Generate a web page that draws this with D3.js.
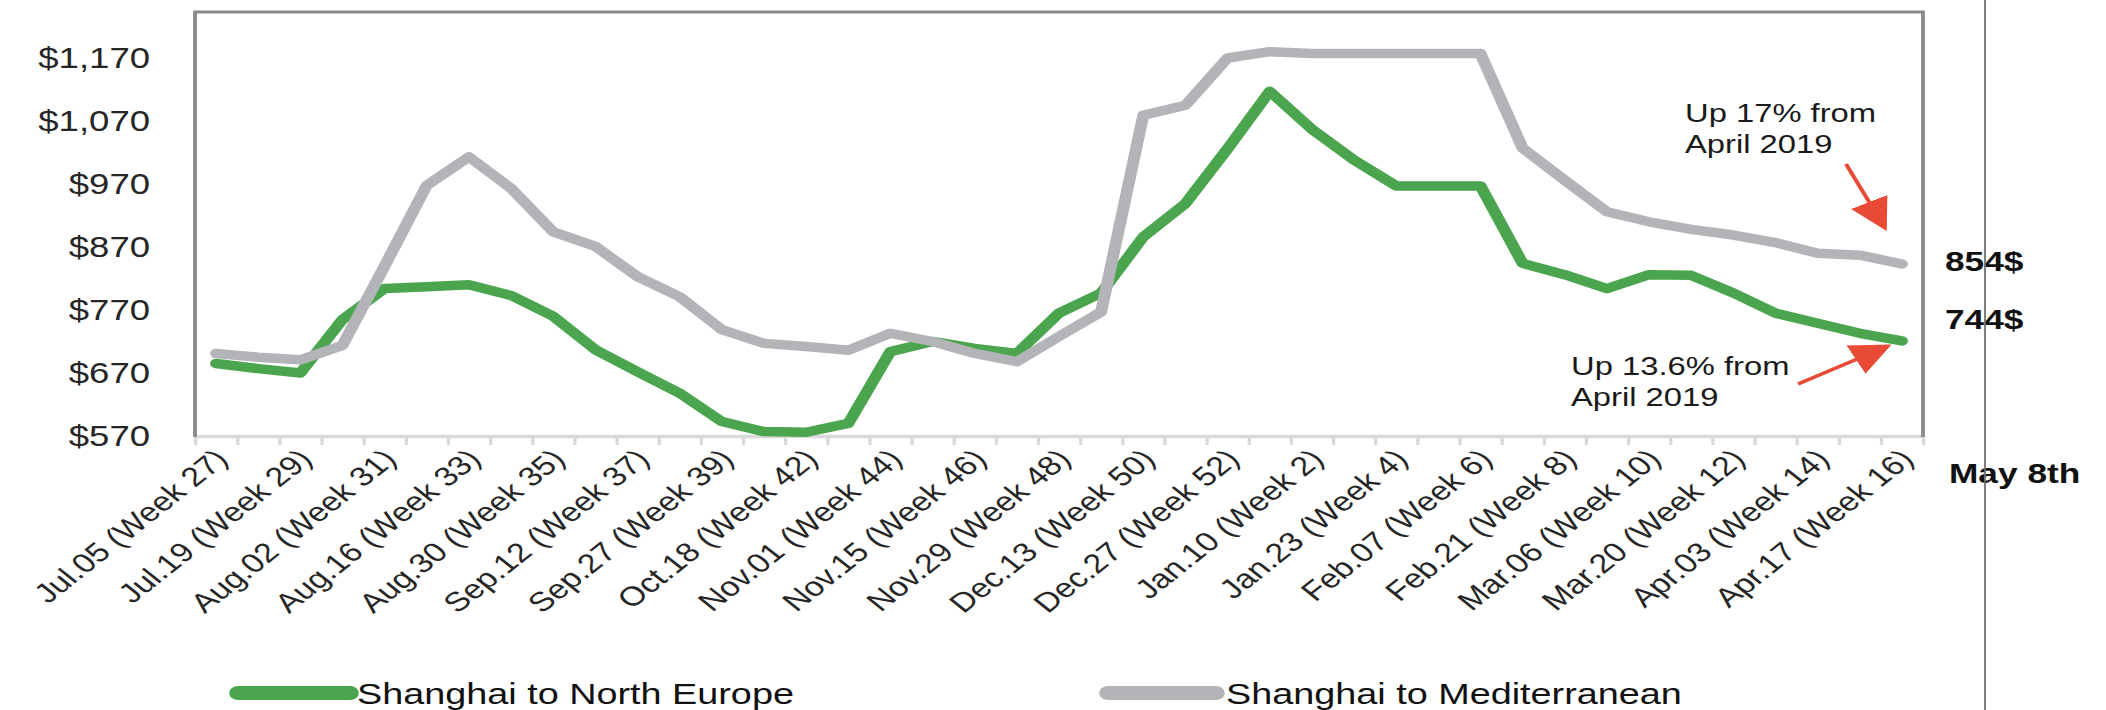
<!DOCTYPE html>
<html>
<head>
<meta charset="utf-8">
<script src="https://cdn.jsdelivr.net/npm/d3@7"></script>
<style>
  html, body { margin: 0; padding: 0; background: #fff; }
  svg { display: block; }
</style>
</head>
<body>
<svg id="chart"></svg>
<script>
// Weekly spot rates Shanghai -> Europe, Jul 2019 to Apr 2020 (one point per week)
const tickLabels = [
  "Jul.05 (Week 27)", "Jul.19 (Week 29)", "Aug.02 (Week 31)", "Aug.16 (Week 33)",
  "Aug.30 (Week 35)", "Sep.12 (Week 37)", "Sep.27 (Week 39)", "Oct.18 (Week 42)",
  "Nov.01 (Week 44)", "Nov.15 (Week 46)", "Nov.29 (Week 48)", "Dec.13 (Week 50)",
  "Dec.27 (Week 52)", "Jan.10 (Week 2)", "Jan.23 (Week 4)", "Feb.07 (Week 6)",
  "Feb.21 (Week 8)", "Mar.06 (Week 10)", "Mar.20 (Week 12)", "Apr.03 (Week 14)",
  "Apr.17 (Week 16)"
];

const northEurope = [
  685, 677, 670, 755, 804, 807, 810, 793, 760, 707,
  672, 638, 593, 577, 576, 590, 704, 720, 709, 701,
  765, 797, 886, 939, 1026, 1117, 1057, 1008, 967, 967,
  967, 844, 826, 804, 826, 825, 797, 765, 749, 733,
  721
];

const mediterranean = [
  701, 695, 691, 714, 840, 968, 1013, 963, 894, 871,
  823, 791, 739, 717, 712, 706, 733, 720, 701, 688,
  728, 767, 1079, 1095, 1170, 1180, 1177, 1177, 1177, 1177,
  1177, 1027, 976, 926, 910, 898, 889, 877, 860, 857,
  843
];

const yTicks = [570, 670, 770, 870, 970, 1070, 1170];
const yDomain = [570, 1243];
const seriesNames = ["Shanghai to North Europe", "Shanghai to Mediterranean"];
const endLabels = ["854$", "744$"];
const noteTop = ["Up 17% from", "April 2019"];
const noteBottom = ["Up 13.6% from", "April 2019"];
const dateNote = "May 8th";

const W = 2106, H = 710;
const SX = 1.26;              // the source picture is stretched sideways
const VW = W / SX;
const px = v => v / SX;       // screen x -> drawing x

const GREEN = "#4aa54e";
const GREY = "#b3b4b8";
const RED = "#e84a35";
const FONT = "'Liberation Sans', Arial, sans-serif";

const svg = d3.select("#chart")
  .attr("width", W)
  .attr("height", H)
  .attr("viewBox", `0 0 ${VW} ${H}`)
  .attr("preserveAspectRatio", "none");

const plot = { left: px(195), right: px(1923), top: 12, bottom: 436 };
const n = northEurope.length;

const x = d3.scaleLinear().domain([0, n]).range([plot.left, plot.right]);
const y = d3.scaleLinear().domain(yDomain).range([plot.bottom, plot.top]);

// bottom axis: light tick marks between the weeks
const xAxis = svg.append("g")
  .attr("transform", `translate(0,${plot.bottom})`)
  .call(d3.axisBottom(x).tickValues(d3.range(n + 1)).tickFormat("").tickSize(9).tickSizeOuter(0));
xAxis.select(".domain").attr("stroke", "#d9d9d9").attr("stroke-width", 3.5);
xAxis.selectAll(".tick line").attr("stroke", "#d9d9d9").attr("stroke-width", 2.6);

// frame on the other three sides
svg.append("path")
  .attr("d", `M${plot.left},${plot.bottom + 1}V${plot.top}H${plot.right}V${plot.bottom + 1}`)
  .attr("fill", "none")
  .attr("stroke", "#8a8a8a")
  .attr("stroke-width", 3);

// y labels
const yAxis = svg.append("g")
  .attr("transform", `translate(${plot.left},0)`)
  .call(d3.axisLeft(y).tickValues(yTicks).tickFormat(d3.format("$,")).tickSize(0).tickPadding(px(45)));
yAxis.select(".domain").remove();
yAxis.selectAll("text")
  .attr("font-family", FONT)
  .attr("font-size", 29)
  .attr("fill", "#262626");

// rotated week labels on every second week
svg.append("g")
  .selectAll("text")
  .data(tickLabels)
  .join("text")
  .attr("transform", (d, i) => `translate(${x(i * 2 + 0.5) + 4},${plot.bottom + 18}) rotate(-45)`)
  .attr("text-anchor", "end")
  .attr("dy", "0.35em")
  .attr("font-family", FONT)
  .attr("font-size", 27)
  .attr("fill", "#262626")
  .text(d => d);

// series lines
const line = d3.line()
  .x((d, i) => x(i + 0.5))
  .y(d => y(d));

[[northEurope, GREEN], [mediterranean, GREY]].forEach(([values, color]) => {
  svg.append("path")
    .datum(values)
    .attr("d", line)
    .attr("fill", "none")
    .attr("stroke", color)
    .attr("stroke-width", 9.5)
    .attr("stroke-linejoin", "round")
    .attr("stroke-linecap", "round");
});

// legend
const legend = [
  { name: seriesNames[0], color: GREEN, x0: px(238), x1: px(350), tx: px(357) },
  { name: seriesNames[1], color: GREY, x0: px(1108), x1: px(1216), tx: px(1226) }
];
legend.forEach(d => {
  svg.append("line")
    .attr("x1", d.x0).attr("x2", d.x1)
    .attr("y1", 693).attr("y2", 693)
    .attr("stroke", d.color)
    .attr("stroke-width", 14)
    .attr("stroke-linecap", "round");
  svg.append("text")
    .attr("x", d.tx)
    .attr("y", 704)
    .attr("font-family", FONT)
    .attr("font-size", 30)
    .attr("fill", "#111")
    .text(d.name);
});

// notes with red arrows
svg.append("defs").append("marker")
  .attr("id", "head")
  .attr("viewBox", "0 0 10 10")
  .attr("refX", 9)
  .attr("refY", 5)
  .attr("markerWidth", 10)
  .attr("markerHeight", 10)
  .attr("markerUnits", "strokeWidth")
  .attr("orient", "auto")
  .append("path")
  .attr("d", "M0,0L10,5L0,10Z")
  .attr("fill", RED);

const noteText = (lines, sx, sy) => {
  const t = svg.append("text")
    .attr("font-family", FONT)
    .attr("font-size", 26)
    .attr("fill", "#1a1a1a");
  lines.forEach((s, i) => {
    t.append("tspan").attr("x", px(sx)).attr("y", sy + i * 31).text(s);
  });
};
noteText(noteTop, 1685, 122);
noteText(noteBottom, 1571, 375);

const arrow = (ax, ay, bx, by) => {
  svg.append("line")
    .attr("x1", px(ax)).attr("y1", ay)
    .attr("x2", px(bx)).attr("y2", by)
    .attr("stroke", RED)
    .attr("stroke-width", 3.2)
    .attr("marker-end", "url(#head)");
};
arrow(1846, 164, 1885, 228);
arrow(1798, 384, 1888, 346);

// end values and date on the right
const bold = (s, sx, sy) => svg.append("text")
  .attr("x", px(sx)).attr("y", sy)
  .attr("font-family", FONT)
  .attr("font-weight", "bold")
  .attr("font-size", 28)
  .attr("fill", "#111")
  .text(s);
bold(endLabels[0], 1945, 271);
bold(endLabels[1], 1945, 329);
bold(dateNote, 1949, 483);

// thin separator line at the right
svg.append("line")
  .attr("x1", px(1985)).attr("x2", px(1985))
  .attr("y1", 0).attr("y2", H)
  .attr("stroke", "#6e6e6e")
  .attr("stroke-width", 1.4);
</script>
</body>
</html>
